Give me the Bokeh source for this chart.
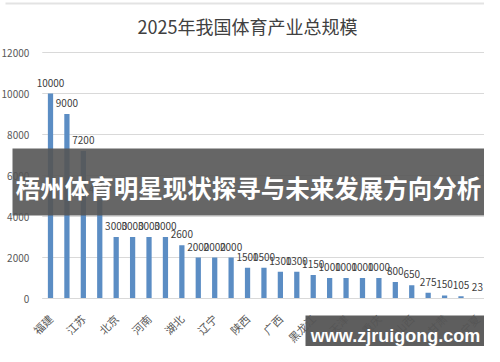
import math
from bokeh.plotting import figure
from bokeh.models import Range1d, FixedTicker, Label, BoxAnnotation, ColumnDataSource
from bokeh.embed import file_html
from bokeh.resources import INLINE
from bokeh.core.properties import value

title_text = "2025年我国体育产业总规模"
banner_text = "梧州体育明星现状探寻与未来发展方向分析"
watermark_text = "www.zjruigong.com"

values = [10000, 9000, 7200, 4800, 3000, 3000, 3000, 3000, 2600, 2000, 2000, 2000,
          1500, 1500, 1300, 1300, 1150, 1000, 1000, 1000, 1000, 800, 650, 275, 150, 105, 23]
shown_labels = ["福建", "江苏", "北京", "河南", "湖北", "辽宁", "陕西", "广西",
                "黑龙江", "天津", "重庆", "山西", "甘肃", "宁夏"]
y_ticks = [0, 2000, 4000, 6000, 8000, 10000, 12000]

n = len(values)
xs = list(range(n))
label_positions = xs[::2]
src = ColumnDataSource(dict(x=xs, top=values, txt=[str(v) for v in values]))
grid_src = ColumnDataSource(dict(x0=[-0.5] * len(y_ticks), x1=[n - 0.5] * len(y_ticks),
                                 y=y_ticks))

CJK = "Noto Sans CJK SC"
W, H = 484, 346
step = 16.42                 # px per category
x0_px = 50                   # pixel of first bar
y0_px, ytop_px = 298, 52     # pixels of 0 and 12000
px_per_unit = (y0_px - ytop_px) / 12000
x_start = -x0_px / step
x_end = (W - x0_px) / step
y_end = 12000 + ytop_px / px_per_unit
y_start = -(H - y0_px) / px_per_unit

p = figure(width=W, height=H, output_backend="svg", toolbar_location=None,
           x_range=Range1d(x_start, x_end), y_range=Range1d(y_start, y_end),
           min_border=0)
p.outline_line_color = None
p.background_fill_color = "white"
p.xgrid.visible = False
p.ygrid.visible = False

p.segment(x0="x0", x1="x1", y0="y", y1="y", source=grid_src, line_color="#d9d9d9", line_width=1)

p.vbar(x="x", top="top", width=0.32, source=src, color="#5b8dc4", line_color=None)
p.text(x="x", y="top", text="txt", source=src, text_align="center", text_baseline="bottom",
       y_offset=-7, text_font_size="10px", text_color="#404040", text_font=value(CJK))

p.yaxis.fixed_location = -0.5
p.yaxis.bounds = (0, 12000)
p.yaxis.ticker = FixedTicker(ticks=y_ticks)
p.yaxis.axis_line_color = None
p.yaxis.major_tick_line_color = None
p.yaxis.minor_tick_line_color = None
p.yaxis.major_label_text_font_size = "10px"
p.yaxis.major_label_text_color = "#595959"
p.yaxis.major_label_text_font = CJK
p.yaxis.major_label_standoff = 7

p.xaxis.fixed_location = 0
p.xaxis.bounds = (-0.5, n - 0.5)
p.xaxis.ticker = FixedTicker(ticks=label_positions)
p.xaxis.major_label_overrides = {pos: lab for pos, lab in zip(label_positions, shown_labels)}
p.xaxis.axis_line_color = "#d9d9d9"
p.xaxis.major_tick_line_color = None
p.xaxis.minor_tick_line_color = None
p.xaxis.major_label_orientation = math.pi / 4
p.xaxis.major_label_text_font_size = "11px"
p.xaxis.major_label_text_color = "#595959"
p.xaxis.major_label_text_font = CJK
p.xaxis.major_label_standoff = 12

# thin border line at top of the original image
p.add_layout(BoxAnnotation(left=5, right=495, top=H - 2, bottom=H - 4,
                           left_units="screen", right_units="screen",
                           top_units="screen", bottom_units="screen",
                           fill_color="#e3e3e3", fill_alpha=1, line_color=None))

# title (screen units: from frame left / bottom)
p.add_layout(Label(x=247, y=H - 25, x_units="screen", y_units="screen", text=title_text,
                   text_align="center", text_baseline="middle", text_font_size="18px",
                   text_color="#404040", text_font=CJK))

# banner
p.add_layout(BoxAnnotation(left=12, right=488, top=H - 148, bottom=H - 215,
                           left_units="screen", right_units="screen",
                           top_units="screen", bottom_units="screen",
                           fill_color="#555555", fill_alpha=0.9, line_color=None, level="overlay"))
p.add_layout(Label(x=248, y=H - 187, x_units="screen", y_units="screen", text=banner_text,
                   text_align="center", text_baseline="middle", text_font_size="24.5px",
                   text_font_style="bold", text_color="white", text_font=CJK, level="overlay"))

# watermark
p.add_layout(BoxAnnotation(left=305, right=491, top=H - 315, bottom=H - 353,
                           left_units="screen", right_units="screen",
                           top_units="screen", bottom_units="screen",
                           fill_color="#555555", fill_alpha=0.95, line_color=None, level="overlay"))
p.add_layout(Label(x=395, y=H - 335, x_units="screen", y_units="screen", text=watermark_text,
                   text_align="center", text_baseline="middle", text_font_size="18px",
                   text_font_style="bold", text_color="white", text_font="Liberation Sans",
                   level="overlay"))

open("out.html", "w").write(file_html(p, INLINE))
